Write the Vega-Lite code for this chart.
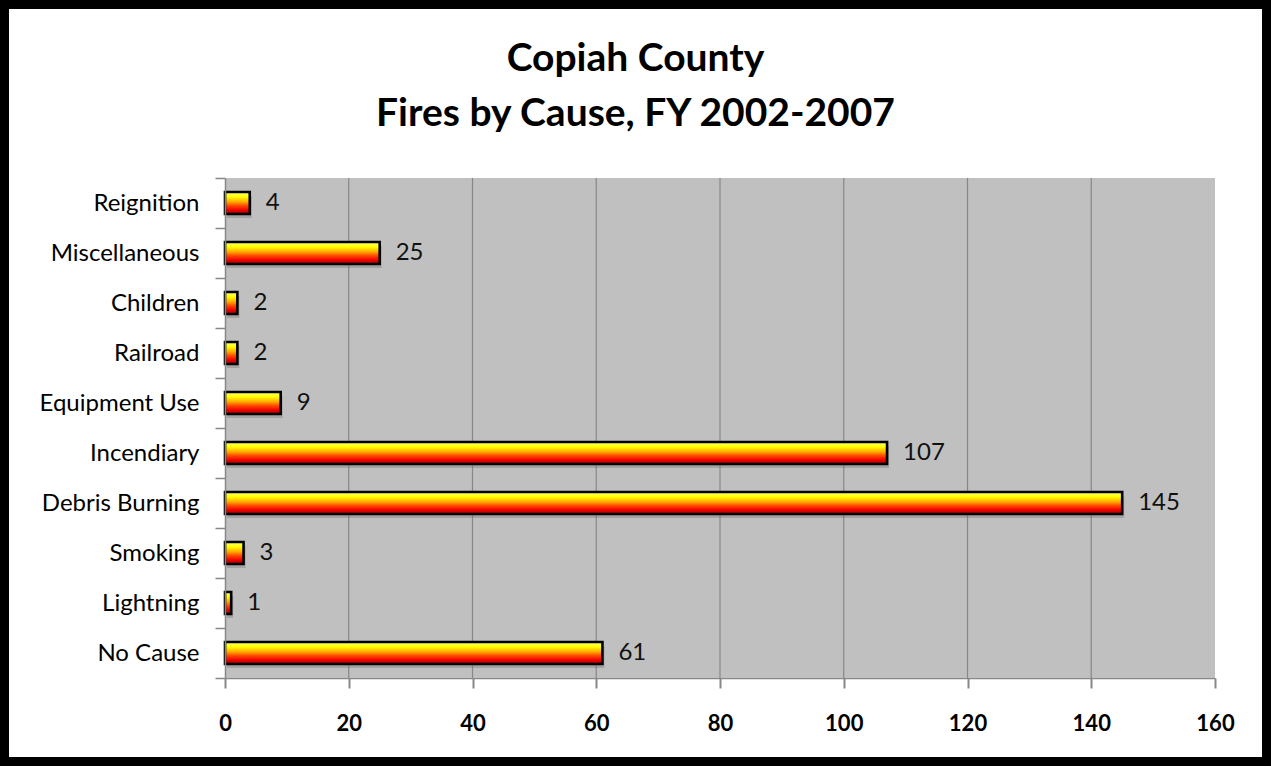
{
  "$schema": "https://vega.github.io/schema/vega-lite/v6.json",
  "width": 1271,
  "height": 766,
  "autosize": {"type": "none"},
  "padding": 0,
  "background": "white",
  "title": {
    "text": ["Copiah County", "Fires by Cause, FY 2002-2007"],
    "font": "Lato",
    "fontSize": 39,
    "fontWeight": "bold",
    "color": "black",
    "anchor": "middle",
    "lineHeight": 55,
    "offset": -146
  },
  "datasets": {
    "fires": [
      {"cause": "Reignition", "fires": 4},
      {"cause": "Miscellaneous", "fires": 25},
      {"cause": "Children", "fires": 2},
      {"cause": "Railroad", "fires": 2},
      {"cause": "Equipment Use", "fires": 9},
      {"cause": "Incendiary", "fires": 107},
      {"cause": "Debris Burning", "fires": 145},
      {"cause": "Smoking", "fires": 3},
      {"cause": "Lightning", "fires": 1},
      {"cause": "No Cause", "fires": 61}
    ],
    "gridlines": [
      {"tick": 20}, {"tick": 40}, {"tick": 60}, {"tick": 80},
      {"tick": 100}, {"tick": 120}, {"tick": 140}
    ]
  },
  "layer": [
    {
      "layer": [
        {
          "data": {"values": [{}]},
          "mark": {"type": "rect", "fill": "#C0C0C0"},
          "encoding": {
            "x": {"datum": 0, "type": "quantitative", "title": null},
            "x2": {"datum": 160},
            "y": {
              "datum": 0,
              "type": "quantitative",
              "axis": null,
              "scale": {"domain": [0, 1], "range": [178, 678], "nice": false, "zero": false}
            },
            "y2": {"datum": 1}
          }
        },
        {
          "data": {"name": "gridlines"},
          "mark": {"type": "rule", "color": "#878787", "strokeWidth": 1.2},
          "encoding": {
            "x": {"field": "tick", "type": "quantitative", "title": null},
            "y": {"datum": 0, "type": "quantitative"},
            "y2": {"datum": 1}
          }
        }
      ]
    },
    {
      "data": {"name": "fires"},
      "encoding": {
        "y": {
          "field": "cause",
          "type": "nominal",
          "sort": null,
          "scale": {"range": [178, 678], "paddingInner": 0, "paddingOuter": 0},
          "axis": {
            "orient": "left",
            "offset": -225,
            "title": null,
            "grid": false,
            "zindex": 1,
            "domainColor": "#878787",
            "domainWidth": 1.5,
            "tickColor": "#878787",
            "tickWidth": 1.5,
            "tickSize": 10,
            "tickBand": "extent",
            "labelFont": "Lato",
            "labelFontSize": 24,
            "labelColor": "black",
            "labelPadding": 16
          }
        },
        "x": {
          "field": "fires",
          "type": "quantitative",
          "title": null,
          "scale": {"domain": [0, 160], "range": [225, 1215], "nice": false}
        }
      },
      "layer": [
        {
          "mark": {"type": "bar", "fill": "#6e6e6e", "opacity": 0.35, "xOffset": 2, "yOffset": 4, "height": {"band": 0.44}}
        },
        {
          "mark": {
            "type": "bar",
            "height": {"band": 0.44},
            "stroke": "black",
            "strokeWidth": 2.6,
            "fill": {
              "gradient": "linear",
              "x1": 0, "y1": 0, "x2": 0, "y2": 1,
              "stops": [
                {"offset": 0, "color": "#FFFF80"},
                {"offset": 0.22, "color": "#FFFF00"},
                {"offset": 0.45, "color": "#FFA800"},
                {"offset": 0.62, "color": "#FF4A00"},
                {"offset": 0.82, "color": "#F00000"},
                {"offset": 1, "color": "#A00000"}
              ]
            }
          }
        },
        {
          "mark": {"type": "text", "align": "left", "baseline": "middle", "dx": 16, "font": "Lato", "fontSize": 24, "color": "#111111"},
          "encoding": {"text": {"field": "fires", "type": "quantitative"}}
        }
      ]
    }
  ],
  "resolve": {"scale": {"y": "independent"}},
  "config": {
    "view": {"fill": "white", "stroke": "black", "strokeWidth": 18},
    "axisX": {
      "orient": "bottom",
      "offset": -88,
      "grid": false,
      "zindex": 1,
      "tickCount": 8,
      "domainColor": "#878787",
      "domainWidth": 1.5,
      "tickColor": "#878787",
      "tickWidth": 2,
      "tickSize": 10,
      "labelFont": "Lato",
      "labelFontSize": 22,
      "labelFontWeight": "bold",
      "labelColor": "black",
      "labelPadding": 25,
      "labelFlush": false
    }
  }
}
